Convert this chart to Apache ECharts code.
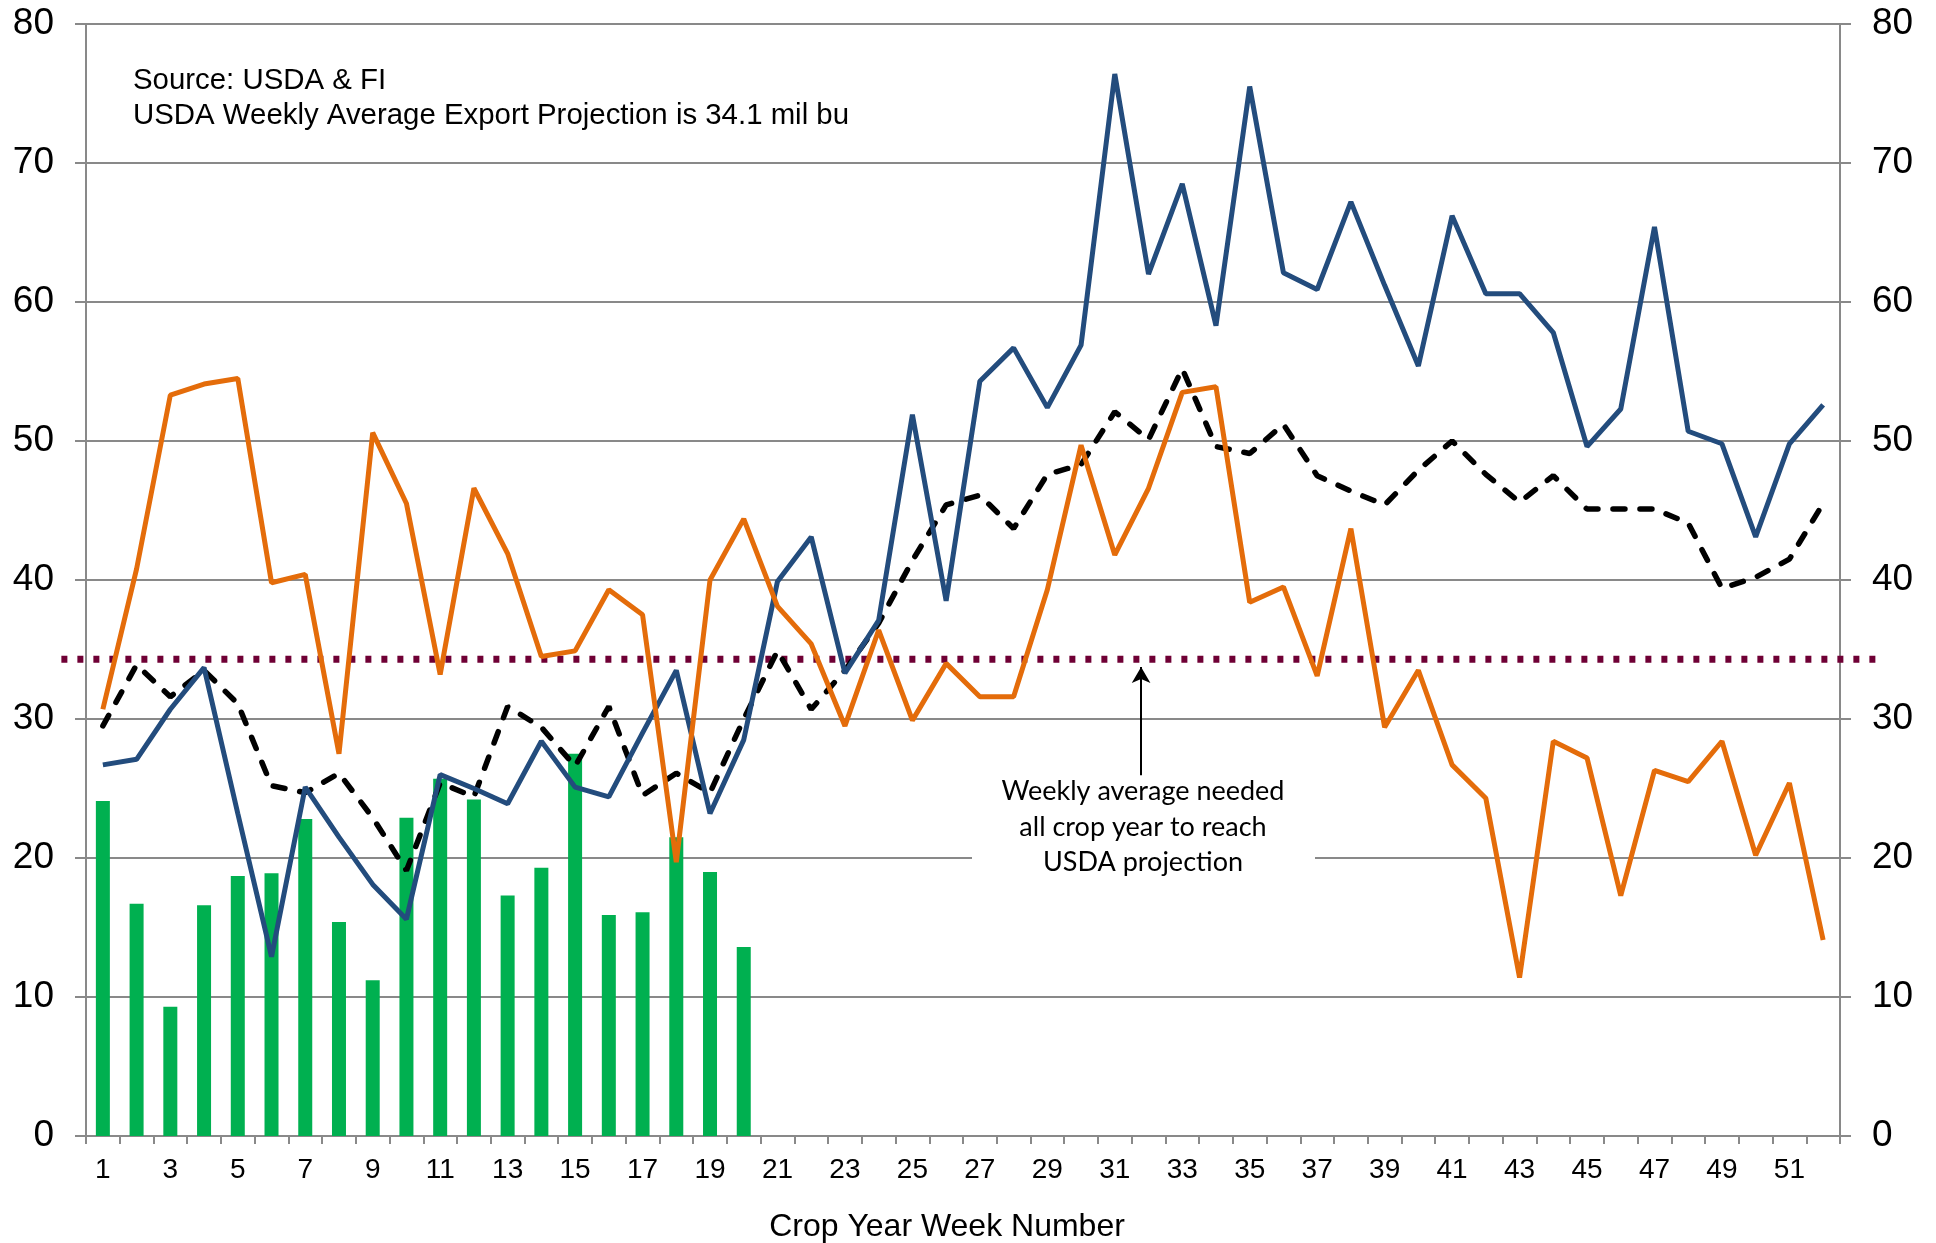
<!DOCTYPE html>
<html><head><meta charset="utf-8">
<script src="https://cdn.jsdelivr.net/npm/echarts@6/dist/echarts.min.js"></script>
<style>html,body{margin:0;padding:0;background:#fff}#c{width:1936px;height:1243px}</style>
</head><body><div id="c"></div>
<script>
// ---- data ----
const weeks = ['1','2','3','4','5','6','7','8','9','10','11','12','13','14','15','16','17','18','19','20','21','22','23','24','25','26','27','28','29','30','31','32','33','34','35','36','37','38','39','40','41','42','43','44','45','46','47','48','49','50','51','52'];
const yTicks = [0, 10, 20, 30, 40, 50, 60, 70, 80];
const currentYear = [24.1, 16.7, 9.3, 16.6, 18.7, 18.9, 22.8, 15.4, 11.2, 22.9, 25.7, 24.2, 17.3, 19.3, 27.5, 15.9, 16.1, 21.5, 19.0, 13.6];
const orangeYear = [30.7, 40.8, 53.3, 54.1, 54.5, 39.8, 40.4, 27.5, 50.6, 45.5, 33.2, 46.6, 41.9, 34.5, 34.9, 39.3, 37.5, 19.7, 40.0, 44.4, 38.1, 35.4, 29.5, 36.4, 29.9, 34.0, 31.6, 31.6, 39.3, 49.7, 41.8, 46.6, 53.5, 53.9, 38.4, 39.5, 33.1, 43.7, 29.4, 33.5, 26.7, 24.3, 11.4, 28.4, 27.2, 17.3, 26.3, 25.5, 28.4, 20.2, 25.4, 14.1];
const blueYear = [26.7, 27.1, 30.7, 33.7, 23.2, 12.9, 25.1, 21.5, 18.1, 15.6, 26.0, 25.0, 23.9, 28.4, 25.1, 24.4, 29.0, 33.5, 23.2, 28.5, 39.9, 43.1, 33.3, 37.1, 51.9, 38.5, 54.3, 56.7, 52.4, 56.9, 76.4, 62.0, 68.5, 58.3, 75.5, 62.1, 60.9, 67.2, 61.2, 55.4, 66.2, 60.6, 60.6, 57.8, 49.6, 52.3, 65.4, 50.7, 49.8, 43.1, 49.8, 52.6];
const averageYears = [29.5, 33.9, 31.6, 33.5, 31.1, 25.2, 24.7, 26.1, 22.9, 19.1, 25.4, 24.4, 30.9, 29.4, 26.6, 30.9, 24.5, 26.1, 24.7, 30.0, 34.9, 30.7, 33.5, 36.9, 41.4, 45.4, 46.1, 43.7, 47.6, 48.3, 52.1, 50.1, 55.2, 49.6, 49.1, 51.2, 47.5, 46.4, 45.4, 47.9, 50.0, 47.6, 45.6, 47.5, 45.1, 45.1, 45.1, 44.1, 39.4, 40.2, 41.5, 45.5];
const neededAverage = 34.3;
const neededSpan = [-0.73, 53.1];

// ---- chart ----
const AX = '#898989';
const ARIAL = '"Liberation Sans", Arial, sans-serif';
const GL = 86, GR = 96, GT = 24, GB = 107, W = 1936;
const catW = (W - GL - GR) / weeks.length;
const chart = echarts.init(document.getElementById('c'), null, {renderer: 'canvas'});
const yAxisBase = {
  type: 'value', min: yTicks[0], max: yTicks[yTicks.length - 1], interval: 10,
  axisLine: {show: true, lineStyle: {color: AX, width: 2}},
  axisTick: {show: true, length: 11, lineStyle: {color: AX, width: 2}},
  axisLabel: {color: '#000', fontSize: 37, fontFamily: ARIAL, margin: 32}
};
chart.setOption({
  animation: false,
  backgroundColor: '#fff',
  grid: [
    {left: GL, right: GR, top: GT, bottom: GB, containLabel: false, outerBoundsMode: 'none'},
    {left: GL + neededSpan[0] * catW, right: W - (GL + neededSpan[1] * catW), top: GT, bottom: GB,
     containLabel: false, outerBoundsMode: 'none'}
  ],
  xAxis: [{
    type: 'category', data: weeks, boundaryGap: true, gridIndex: 0,
    axisLine: {lineStyle: {color: AX, width: 2}},
    axisTick: {show: true, interval: 0, length: 8, lineStyle: {color: AX, width: 2}},
    axisLabel: {interval: 1, color: '#000', fontSize: 28, fontFamily: ARIAL, margin: 20},
    name: 'Crop Year Week Number', nameLocation: 'middle', nameGap: 75,
    nameTextStyle: {color: '#000', fontSize: 32, fontFamily: ARIAL, padding: [0, 32, 0, 0]}
  }, {
    type: 'value', gridIndex: 1, min: neededSpan[0], max: neededSpan[1], show: false
  }],
  yAxis: [
    Object.assign({}, yAxisBase, {position: 'left', gridIndex: 0, splitLine: {show: true, lineStyle: {color: AX, width: 2}}}),
    Object.assign({}, yAxisBase, {position: 'right', gridIndex: 0, splitLine: {show: false}}),
    {type: 'value', gridIndex: 1, min: yTicks[0], max: yTicks[yTicks.length - 1], show: false}
  ],
  series: [
    {
      type: 'bar', name: 'Current', data: currentYear, barWidth: 14,
      itemStyle: {color: '#00B050'}, z: 1
    },
    {
      type: 'line', name: 'Needed', xAxisIndex: 1, yAxisIndex: 2, clip: false,
      data: [[neededSpan[0], neededAverage], [neededSpan[1], neededAverage]],
      symbol: 'none', lineStyle: {color: '#6F0035', width: 7, type: [6, 10], cap: 'butt'}, z: 2,
      markLine: {
        silent: true, animation: false, symbol: ['none', 'arrow'], symbolSize: [14, 16],
        lineStyle: {color: '#000', width: 2, type: 'solid'}, label: {show: false},
        data: [[{coord: [31.28, 25.95]}, {coord: [31.28, 33.74]}]]
      }
    },
    {
      type: 'line', name: 'Average', data: averageYears, symbol: 'none',
      lineStyle: {color: '#000', width: 5.5, type: [12, 15], cap: 'round'}, z: 3
    },
    {
      type: 'line', name: 'Blue', data: blueYear, symbol: 'none',
      lineStyle: {color: '#234C7D', width: 5}, z: 4
    },
    {
      type: 'line', name: 'Orange', data: orangeYear, symbol: 'none',
      lineStyle: {color: '#E46C0A', width: 5}, z: 5
    }
  ],
  graphic: [
    {
      type: 'text', x: 133, y: 63, z: 10,
      style: {text: 'Source: USDA & FI\nUSDA Weekly Average Export Projection is 34.1 mil bu',
        font: '29.4px "Liberation Sans", Arial, sans-serif', lineHeight: 35, fill: '#000'}
    },
    {
      type: 'rect', z: 10, shape: {x: 972, y: 778, width: 343, height: 100},
      style: {fill: '#fff'}
    },
    {
      type: 'text', x: 1143, y: 774, z: 11,
      style: {text: 'Weekly average needed\nall crop year to reach\nUSDA projection',
        font: '27px Lato, "Open Sans", sans-serif', lineHeight: 35.5, fill: '#000', align: 'center'}
    }
  ]
});
</script>
</body></html>
